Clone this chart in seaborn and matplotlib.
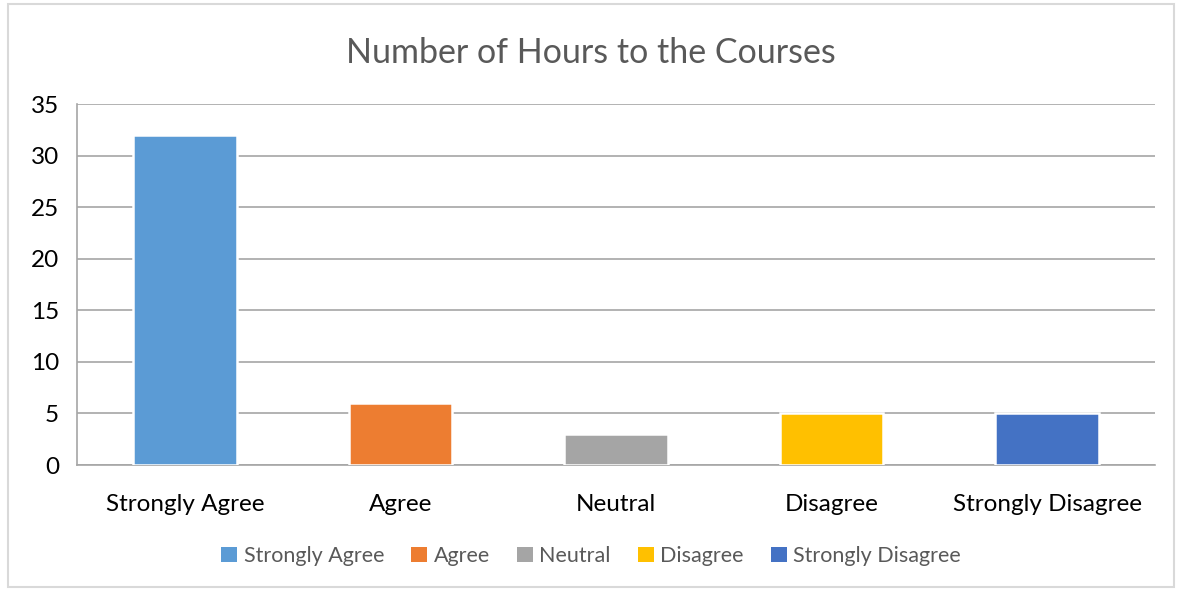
import matplotlib
matplotlib.use("Agg")
import matplotlib.pyplot as plt
import seaborn as sns
import pandas as pd
from matplotlib.patches import Rectangle

# data
categories = ["Strongly Agree", "Agree", "Neutral", "Disagree", "Strongly Disagree"]
hours = [32, 6, 3, 5, 5]
colors = ["#5b9bd5", "#ed7d31", "#a5a5a5", "#ffc000", "#4472c4"]

df = pd.DataFrame({"Response": categories, "Hours": hours})

sns.set_style("white")
plt.rcParams["font.family"] = ["Lato", "DejaVu Sans"]

fig = plt.figure(figsize=(11.82, 5.91), dpi=100)
ax = fig.add_axes([77 / 1182, 1 - 465 / 591, 1078 / 1182, 361 / 591])

# outer chart border
fig.patches.append(Rectangle((8 / 1182, 4 / 591), 1166 / 1182, 583 / 591,
                             transform=fig.transFigure, fill=False,
                             edgecolor="#d9d9d9", linewidth=1.5))

sns.barplot(data=df, x="Response", y="Hours", hue="Response",
            palette=colors, width=0.48, ax=ax, legend=True,
            edgecolor="white", linewidth=1.8, saturation=1, zorder=3)

ax.set_ylim(0, 35)
ax.set_xlim(-0.5, 4.5)
ax.set_yticks(range(0, 36, 5))
ax.yaxis.grid(True, color="#a6a6a6", linewidth=1.2, zorder=0)
ax.set_axisbelow(True)
ax.set_xlabel("")
ax.set_ylabel("")

for side in ["top", "right"]:
    ax.spines[side].set_visible(False)
for side in ["left", "bottom"]:
    ax.spines[side].set_color("#a6a6a6")
    ax.spines[side].set_linewidth(1.2)

# category boundary ticks on x
ax.set_xticks([i - 0.5 for i in range(6)], minor=True)
ax.tick_params(axis="x", which="minor", length=8, color="#a6a6a6", width=1.2, direction="out")
ax.tick_params(axis="x", which="major", length=0, labelsize=17.5, pad=21, labelcolor="black")
ax.tick_params(axis="y", length=8, color="#a6a6a6", width=1.2, labelsize=17.5, pad=5, labelcolor="black")

fig.suptitle("Number of Hours to the Courses", x=0.5, y=1 - 53 / 591, va="center",
             fontsize=24.5, color="#595959")

sns.move_legend(ax, "center", bbox_to_anchor=(0.5, 1 - 556 / 591),
                bbox_transform=fig.transFigure, ncol=5, frameon=False, title=None,
                fontsize=15.5, handlelength=0.75, handleheight=0.75, handletextpad=0.3,
                columnspacing=1.25)
for t in ax.get_legend().get_texts():
    t.set_color("#595959")
for h in ax.get_legend().legend_handles:
    h.set_edgecolor("none")

fig.savefig("out.png", dpi=100)
